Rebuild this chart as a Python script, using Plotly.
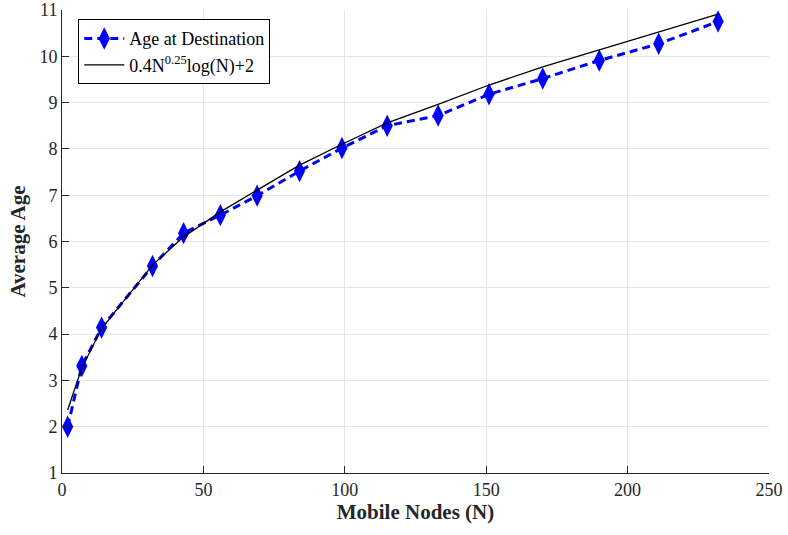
import plotly.graph_objects as go

# Simulated average age at destination vs. number of mobile nodes
nodes = [2, 7, 14, 32, 43, 56, 69, 84, 99, 115, 133, 151, 170, 190, 211, 232]
age_at_destination = [2.00, 3.31, 4.14, 5.47, 6.18, 6.57, 6.99, 7.52, 8.02,
                      8.50, 8.72, 9.18, 9.52, 9.91, 10.27, 10.75]

# Analytical reference curve, sampled at the same node counts
fit_curve = [2.36, 3.27, 4.12, 5.49, 6.10, 6.64, 7.11, 7.65, 8.10,
             8.56, 8.96, 9.38, 9.77, 10.14, 10.53, 10.91]

x_ticks = [0, 50, 100, 150, 200, 250]
y_ticks = [1, 2, 3, 4, 5, 6, 7, 8, 9, 10, 11]

FONT = "Liberation Serif, Times New Roman, serif"
AXIS_COLOR = "#262626"
GRID_COLOR = "#e5e5e5"

fig = go.Figure()

fig.add_trace(go.Scatter(
    x=nodes, y=age_at_destination,
    mode="lines+markers",
    name="Age at Destination",
    line=dict(color="#0000ff", width=3, dash="8px,5px"),
    marker=dict(symbol="diamond-tall", size=16, color="#0000ff",
                line=dict(width=0)),
))

fig.add_trace(go.Scatter(
    x=nodes, y=fit_curve,
    mode="lines",
    name="0.4N<sup>0.25</sup>log(N)+2",
    line=dict(color="#000000", width=1.3),
))

axis_common = dict(
    showgrid=True, gridcolor=GRID_COLOR, gridwidth=1,
    showline=True, linecolor=AXIS_COLOR, linewidth=1,
    ticks="inside", ticklen=7, tickcolor=AXIS_COLOR, tickwidth=1,
    tickfont=dict(family=FONT, size=18, color=AXIS_COLOR),
    ticklabeloverflow="allow",
    zeroline=False, mirror=False, automargin=False,
)

fig.update_layout(
    width=788, height=535,
    margin=dict(l=62, r=19, t=10, b=62),
    paper_bgcolor="white", plot_bgcolor="white",
    font=dict(family=FONT, color=AXIS_COLOR),
    xaxis=dict(
        range=[0, 250], tickvals=x_ticks,
        title=dict(text="<b>Mobile Nodes (N)</b>",
                   font=dict(family=FONT, size=21, color=AXIS_COLOR),
                   standoff=4),
        **axis_common,
    ),
    yaxis=dict(
        range=[1, 11], tickvals=y_ticks,
        title=dict(text="<b>Average Age</b>",
                   font=dict(family=FONT, size=21, color=AXIS_COLOR),
                   standoff=8),
        **axis_common,
    ),
    legend=dict(
        x=0.023, y=0.98, xanchor="left", yanchor="top",
        bgcolor="white", bordercolor="#000000", borderwidth=1,
        font=dict(family=FONT, size=18, color="#000000"),
        tracegroupgap=0, itemwidth=40,
    ),
    showlegend=True,
)

fig.write_html("out.html")
